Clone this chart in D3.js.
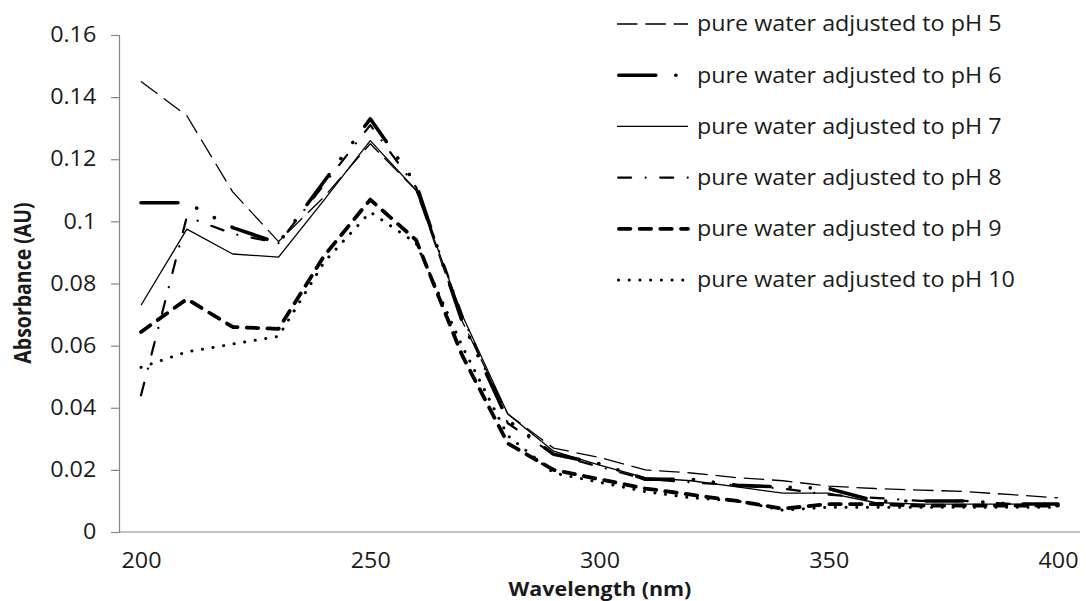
<!DOCTYPE html>
<html>
<head>
<meta charset="utf-8">
<script src="https://cdn.jsdelivr.net/npm/d3@7"></script>
<style>
  html, body { margin: 0; padding: 0; background: #fff; }
  svg { display: block; font-family: "Open Sans", "Noto Sans", sans-serif; }
</style>
</head>
<body>
<svg id="chart" width="1086" height="601"></svg>
<script>
// ---- data ----
const wavelengths = [200,210,220,230,240,250,260,270,280,290,300,310,320,330,340,350,360,370,380,390,400];
const seriesNames = [
  "pure water adjusted to pH 5",
  "pure water adjusted to pH 6",
  "pure water adjusted to pH 7",
  "pure water adjusted to pH 8",
  "pure water adjusted to pH 9",
  "pure water adjusted to pH 10"
];
const pH5  = [0.145, 0.134, 0.1095, 0.0935, 0.108, 0.125, 0.110, 0.068, 0.038, 0.027, 0.024, 0.020, 0.019, 0.0175, 0.0165, 0.0148, 0.014, 0.0135, 0.013, 0.012, 0.011];
const pH6  = [0.106, 0.106, 0.098, 0.093, 0.113, 0.133, 0.112, 0.068, 0.036, 0.025, 0.022, 0.017, 0.017, 0.015, 0.0145, 0.014, 0.010, 0.010, 0.010, 0.009, 0.009];
const pH7  = [0.073, 0.0975, 0.0895, 0.0885, 0.107, 0.126, 0.110, 0.070, 0.038, 0.026, 0.0215, 0.0175, 0.0165, 0.0145, 0.0125, 0.0125, 0.0095, 0.009, 0.009, 0.009, 0.009];
const pH8  = [0.044, 0.1015, 0.096, 0.093, 0.112, 0.131, 0.111, 0.070, 0.035, 0.025, 0.021, 0.017, 0.016, 0.015, 0.014, 0.012, 0.011, 0.010, 0.010, 0.009, 0.009];
const pH9  = [0.0644, 0.075, 0.066, 0.0654, 0.089, 0.107, 0.094, 0.057, 0.0285, 0.020, 0.017, 0.014, 0.012, 0.010, 0.0075, 0.009, 0.009, 0.0085, 0.0085, 0.0085, 0.0085];
const pH10 = [0.053, 0.058, 0.0605, 0.063, 0.087, 0.103, 0.093, 0.060, 0.031, 0.019, 0.016, 0.013, 0.011, 0.010, 0.007, 0.008, 0.008, 0.008, 0.008, 0.008, 0.008];
const xTicks = [200, 250, 300, 350, 400];
const yTicks = [0, 0.02, 0.04, 0.06, 0.08, 0.1, 0.12, 0.14, 0.16];

// ---- styles ----
const styles = [
  { width: 1.3, dash: "20.5,7.8", cap: "butt" },
  { width: 3.6, dash: "37,20,0.1,20,0.1,20", cap: "round" },
  { width: 1.3, dash: null, cap: "butt" },
  { width: 2.2, dash: "13,14.5,0.1,14.5", cap: "round" },
  { width: 3.8, dash: "11.5,9.2", cap: "round" },
  { width: 3.0, dash: "0.1,10.6", cap: "round" }
];
const allSeries = [pH5, pH6, pH7, pH8, pH9, pH10];
const SX = 1.11;            // horizontal stretch of the lettering
const labelSize = "21px";

const svg = d3.select("#chart");
const x = d3.scaleLinear().domain([200, 400]).range([141, 1058]);
const y = d3.scaleLinear().domain([0, 0.16]).range([532, 35]);
const axisColor = "#868686";
const textColor = "#1a1a1a";

// y axis
const yAxis = svg.append("g").attr("transform", "translate(119,0)")
  .call(d3.axisLeft(y).tickValues(yTicks).tickSize(8).tickPadding(12.5)
        .tickFormat(d => d === 0 ? "0" : String(+d.toFixed(2))));
yAxis.select(".domain").attr("stroke", axisColor).attr("stroke-width", 1.2);
yAxis.selectAll(".tick line").attr("stroke", axisColor).attr("stroke-width", 1.2);
yAxis.selectAll(".tick text").attr("fill", textColor).style("font-size", labelSize)
  .style("font-family", '"Open Sans", sans-serif')
  .attr("transform", `scale(${SX},1)`);

// x axis (no tick marks), line extends across plot
const xAxis = svg.append("g").attr("transform", "translate(0,532)")
  .call(d3.axisBottom(x).tickValues(xTicks).tickSize(0).tickPadding(21).tickFormat(d3.format("d")));
xAxis.select(".domain").remove();
xAxis.selectAll(".tick text").attr("fill", textColor).style("font-size", labelSize)
  .style("font-family", '"Open Sans", sans-serif')
  .attr("transform", `scale(${SX},1)`);
svg.append("line").attr("x1", 119).attr("x2", 1080).attr("y1", 532).attr("y2", 532)
  .attr("stroke", axisColor).attr("stroke-width", 1.2);

// axis titles
svg.append("text").attr("transform", `translate(600,596) scale(1.13,1)`).attr("text-anchor", "middle")
  .attr("fill", textColor).style("font-size", "19px").style("font-weight", "bold")
  .text("Wavelength (nm)");
svg.append("text").attr("transform", `translate(31,283) scale(1.15,1) rotate(-90)`).attr("text-anchor", "middle")
  .attr("fill", textColor).style("font-size", "19.5px").style("font-weight", "bold")
  .text("Absorbance (AU)");

// lines
const line = d3.line().x((d, i) => x(wavelengths[i])).y(d => y(d));
allSeries.forEach((s, k) => {
  const st = styles[k];
  svg.append("path").datum(s).attr("d", line)
    .attr("fill", "none").attr("stroke", "#000")
    .attr("stroke-width", st.width)
    .attr("stroke-linecap", st.cap)
    .attr("stroke-linejoin", "round")
    .attr("stroke-dasharray", st.dash);
});

// legend
const legend = svg.append("g");
seriesNames.forEach((name, k) => {
  const st = styles[k];
  const yy = 24 + k * 51.2;
  legend.append("line").attr("x1", st.cap === "round" ? 617 + st.width / 2 : 617).attr("x2", 688)
    .attr("y1", yy).attr("y2", yy)
    .attr("stroke", "#000").attr("stroke-width", st.width)
    .attr("stroke-linecap", st.cap).attr("stroke-dasharray", st.dash);
  legend.append("text").attr("transform", `translate(697,${yy}) scale(${SX},1)`).attr("dy", "0.35em")
    .attr("fill", textColor).style("font-size", labelSize).text(name);
});
</script>
</body>
</html>
